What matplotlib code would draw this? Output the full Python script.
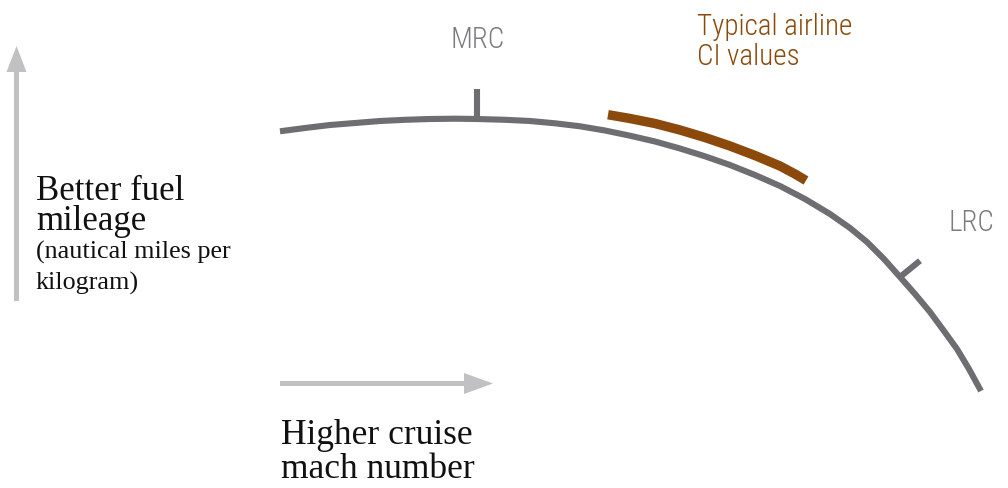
import matplotlib
matplotlib.use("Agg")
import matplotlib.pyplot as plt

# ---- data (diagram units) ----
curve_x = [280, 305, 330, 355, 380, 405, 430, 455, 477, 505, 530, 555, 580, 605, 630,
           655, 680, 705, 730, 755, 780, 805, 830, 850, 867, 884, 900, 915, 930, 944,
           957, 969, 981]
curve_y = [132.3, 129, 126, 124, 122, 120.8, 120, 119.7, 120, 120.8, 122, 124.3, 127.3,
           131.5, 136.7, 142.5, 149.5, 157.3, 166, 176, 187, 200, 215, 229, 243, 260,
           278, 295, 313, 332, 350, 370, 392]

ci_x = [608, 630, 655, 680, 705, 730, 755, 780, 795, 806]
ci_y = [115.7, 119.5, 124.5, 131, 138.5, 147, 156.5, 167, 175, 181.5]

mrc_tick_x = [477, 477]
mrc_tick_y = [120, 90]
lrc_tick_x = [900, 920]
lrc_tick_y = [278, 261.7]

labels_marks = ["MRC", "LRC"]
label_ci = ["Typical airline", "CI values"]
label_y = ["Better fuel", "mileage"]
label_y_sub = ["(nautical miles per", "kilogram)"]
label_x = ["Higher cruise", "mach number"]

GREY = "#6e6d72"
BROWN = "#8b4a0b"
ARROW = "#c1c1c3"
LABEL = "#7c7c7e"

fig = plt.figure(figsize=(10.08, 4.89), dpi=100)
ax = fig.add_axes([0, 0, 1, 1])
ax.set_xlim(0, 1008)
ax.set_ylim(489, 0)
ax.axis("off")

ax.plot(curve_x, curve_y, color=GREY, lw=4.4, solid_capstyle="butt", solid_joinstyle="round")
ax.plot(ci_x, ci_y, color=BROWN, lw=6.8, solid_capstyle="butt", solid_joinstyle="round")
ax.plot(mrc_tick_x, mrc_tick_y, color=GREY, lw=4.4, solid_capstyle="butt")
ax.plot(lrc_tick_x, lrc_tick_y, color=GREY, lw=4.4, solid_capstyle="butt")

# axes arrows
ax.arrow(16.5, 302, 0, -255, width=5, head_width=20, head_length=26,
         length_includes_head=True, color=ARROW, lw=0)
ax.arrow(280, 384.5, 213, 0, width=5, head_width=21, head_length=29,
         length_includes_head=True, color=ARROW, lw=0)

sans = ["Roboto Condensed", "Roboto", "DejaVu Sans"]
ax.text(478, 48, labels_marks[0], color=LABEL, fontsize=21, family=sans,
        fontweight="light", ha="center", va="baseline")
ax.text(971, 231, labels_marks[1], color=LABEL, fontsize=21, family=sans,
        fontweight="light", ha="center", va="baseline")
ax.text(697, 65, "\n".join(label_ci), color=BROWN, fontsize=21, family=sans,
        fontweight="light", ha="left", va="baseline", linespacing=1.1)

serif = ["Liberation Serif", "DejaVu Serif"]
ax.text(36, 230, "\n".join(label_y), color="#111111", fontsize=25, family=serif,
        va="baseline", linespacing=0.9)
ax.text(36, 290, "\n".join(label_y_sub), color="#111111", fontsize=18.8, family=serif,
        va="baseline", linespacing=1.45)
ax.text(281, 478, "\n".join(label_x), color="#111111", fontsize=25.5, family=serif,
        va="baseline", linespacing=1.02)

fig.savefig("out.png", dpi=100, facecolor="white")
